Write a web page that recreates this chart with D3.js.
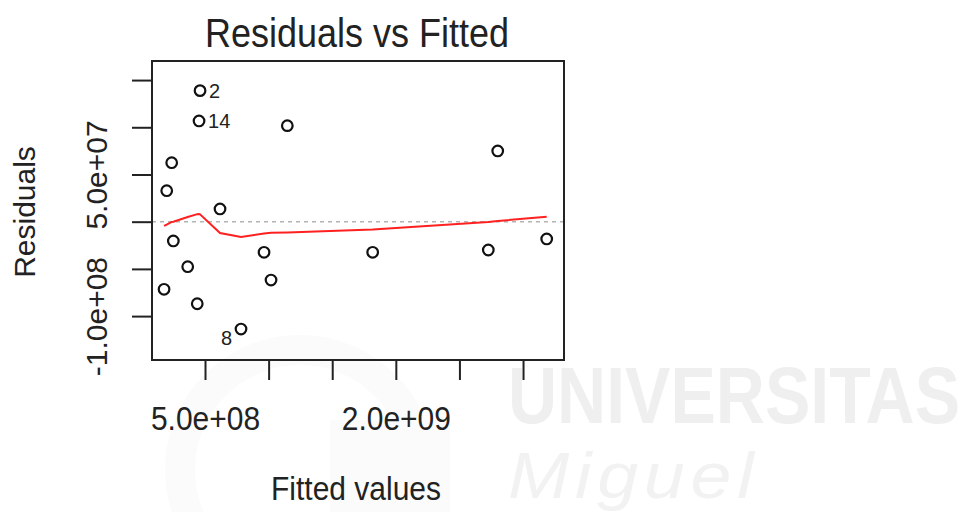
<!DOCTYPE html>
<html>
<head>
<meta charset="utf-8">
<script src="https://cdn.jsdelivr.net/npm/d3@7"></script>
<style>
  html, body { margin: 0; padding: 0; background: #fff; }
  svg { display: block; font-family: "Liberation Sans", Arial, sans-serif; }
</style>
</head>
<body>
<div id="chart"></div>
<script>
// fitted values and residuals
let fitted = [4.61e8, 4.53e8, 11.47e8, 2.38e8, 1.99e8, 6.18e8, 2.51e8, 9.64e8, 3.64e8,
              10.19e8, 1.78e8, 4.39e8, 7.83e8, 28.01e8, 18.18e8, 27.27e8, 31.86e8];
let residuals = [13.88e7, 10.67e7, 10.17e7, 6.25e7, 3.28e7, 1.35e7, -2.04e7, -3.24e7, -4.77e7,
                 -6.18e7, -7.16e7, -8.69e7, -11.37e7, 7.49e7, -3.24e7, -3.0e7, -1.83e7];
let pointIds = ["2", "14", "", "", "", "", "", "", "", "", "", "", "8", "", "", "", ""];

// smoother (red line), sampled at the sorted fitted values
let smoothX = [1.78e8, 1.99e8, 2.38e8, 2.51e8, 3.64e8, 4.39e8, 4.53e8, 4.61e8, 6.18e8,
               7.83e8, 9.64e8, 10.19e8, 11.47e8, 18.18e8, 27.27e8, 28.01e8, 31.86e8];
let smoothY = [-0.45e7, -0.30e7, -0.03e7, 0, 0.50e7, 0.80e7, 0.82e7, 0.78e7, -1.20e7,
               -1.62e7, -1.25e7, -1.17e7, -1.14e7, -0.82e7, -0.03e7, 0.07e7, 0.53e7];

let xTicks = [5e8, 1e9, 1.5e9, 2e9, 2.5e9, 3e9];
let xTickLabels = ["5.0e+08", "", "", "2.0e+09", "", ""];
let yTicks = [-1e8, -5e7, 0, 5e7, 1e8, 1.5e8];
let yTickLabels = ["-1.0e+08", "", "", "5.0e+07", "", ""];

let width = 966, height = 512;
let box = {left: 152, top: 61, right: 564, bottom: 360};

let svg = d3.select("#chart").append("svg")
    .attr("width", width)
    .attr("height", height);

// faint watermark behind the chart
let wm = svg.append("g").attr("class", "watermark");
wm.append("circle")
    .attr("cx", 300).attr("cy", 470).attr("r", 120)
    .attr("fill", "none").attr("stroke", "#fbfbfb").attr("stroke-width", 30);
wm.append("rect")
    .attr("x", 330).attr("y", 420).attr("width", 120).attr("height", 92)
    .attr("fill", "#fbfbfb");
wm.append("text")
    .attr("transform", "translate(508,423) scale(0.85,1)")
    .attr("font-size", 80).attr("font-weight", "bold")
    .attr("fill", "#efefef")
    .text("UNIVERSITAS");
wm.append("text")
    .attr("transform", "translate(508,498) scale(1.15,1)")
    .attr("font-size", 64).attr("font-style", "italic")
    .attr("letter-spacing", 5)
    .attr("fill", "#f2f2f2")
    .text("Miguel");

let x = d3.scaleLinear()
    .domain([0.833e8, 3.322e9])
    .range([box.left, box.right]);

let y = d3.scaleLinear()
    .domain([-1.465e8, 1.702e8])
    .range([box.bottom, box.top]);

// zero reference line
svg.append("line")
    .attr("x1", box.left).attr("x2", box.right)
    .attr("y1", y(0)).attr("y2", y(0))
    .attr("stroke", "#b4b4b4")
    .attr("stroke-width", 1.5)
    .attr("stroke-dasharray", "4,4");

// smoother
let line = d3.line()
    .x((d)=>x(d[0]))
    .y((d)=>y(d[1]));

svg.append("path")
    .datum(d3.zip(smoothX, smoothY))
    .attr("fill", "none")
    .attr("stroke", "#ff2020")
    .attr("stroke-width", 2)
    .attr("d", line);

// points
let points = d3.zip(fitted, residuals, pointIds);

svg.append("g")
    .attr("class", "points")
    .selectAll("circle")
    .data(points)
    .enter().append("circle")
    .attr("cx", (d)=>x(d[0]))
    .attr("cy", (d)=>y(d[1]))
    .attr("r", 5.3)
    .attr("fill", "none")
    .attr("stroke", "#111")
    .attr("stroke-width", 2.2);

// labels for the largest residuals
svg.append("g")
    .attr("class", "ids")
    .selectAll("text")
    .data(points.filter((d)=>d[2] !== ""))
    .enter().append("text")
    .attr("x", (d)=>d[1] < 0 ? x(d[0]) - 9 : x(d[0]) + 9)
    .attr("y", (d)=>d[1] < 0 ? y(d[1]) + 16 : y(d[1]) + 7)
    .attr("text-anchor", (d)=>d[1] < 0 ? "end" : "start")
    .attr("font-size", 20)
    .attr("fill", "#222")
    .text((d)=>d[2]);

// axes
let xAxis = d3.axisBottom(x)
    .tickValues(xTicks)
    .tickSize(20)
    .tickFormat((d, i)=>xTickLabels[i]);

let gx = svg.append("g")
    .attr("transform", "translate(0," + box.bottom + ")")
    .call(xAxis);
gx.select(".domain").remove();
gx.selectAll(".tick line").attr("stroke", "#222").attr("stroke-width", 2);
gx.selectAll(".tick text")
    .attr("y", 0)
    .attr("dy", null)
    .attr("transform", "translate(0,70) scale(1,1.12)")
    .attr("font-size", 30)
    .attr("font-family", "Liberation Sans, Arial, sans-serif")
    .attr("fill", "#222");

let yAxis = d3.axisLeft(y)
    .tickValues(yTicks)
    .tickSize(20)
    .tickFormat((d, i)=>yTickLabels[i]);

let gy = svg.append("g")
    .attr("transform", "translate(" + box.left + ",0)")
    .call(yAxis);
gy.select(".domain").remove();
gy.selectAll(".tick line").attr("stroke", "#222").attr("stroke-width", 2);
gy.selectAll(".tick text")
    .attr("x", 0)
    .attr("dy", null)
    .attr("transform", "translate(-45,0) rotate(-90)")
    .attr("text-anchor", "middle")
    .attr("font-size", 30)
    .attr("font-family", "Liberation Sans, Arial, sans-serif")
    .attr("fill", "#222");

// frame
svg.append("rect")
    .attr("x", box.left).attr("y", box.top)
    .attr("width", box.right - box.left)
    .attr("height", box.bottom - box.top)
    .attr("fill", "none")
    .attr("stroke", "#222")
    .attr("stroke-width", 2);

// titles
svg.append("text")
    .attr("transform", "translate(357,47) scale(1,1.12)")
    .attr("text-anchor", "middle")
    .attr("font-size", 36)
    .attr("fill", "#222")
    .text("Residuals vs Fitted");

svg.append("text")
    .attr("transform", "translate(356,500) scale(1,1.12)")
    .attr("text-anchor", "middle")
    .attr("font-size", 30)
    .attr("fill", "#222")
    .text("Fitted values");

svg.append("text")
    .attr("transform", "translate(35,212) rotate(-90)")
    .attr("text-anchor", "middle")
    .attr("font-size", 30)
    .attr("fill", "#222")
    .text("Residuals");
</script>
</body>
</html>
